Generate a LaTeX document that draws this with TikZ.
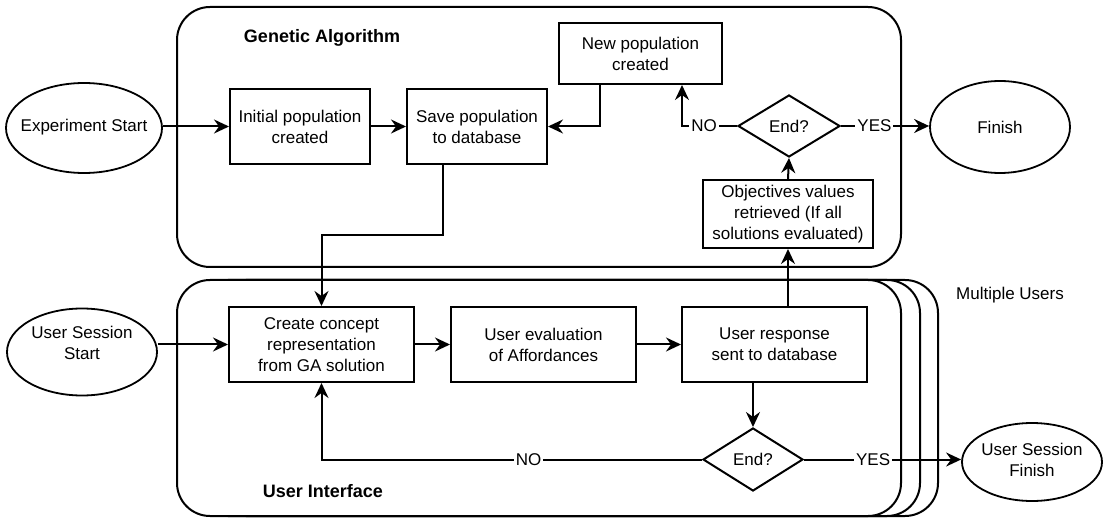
\documentclass[tikz,border=0pt]{standalone}
\usepackage{fontspec}
\setmainfont{Liberation Sans}
\usetikzlibrary{shapes.geometric,arrows.meta}
\begin{document}
\begin{tikzpicture}[x=1pt,y=-1pt,
  every node/.style={font=\fontsize{17}{21}\selectfont},
  ln/.style={line width=2pt},
  arr/.style={ln,-{Stealth[length=15pt,width=14pt,inset=5pt]}},
  proc/.style={draw,ln,fill=white,align=center,inner sep=1pt},
  term/.style={ellipse,draw,line width=1.8pt,fill=white,inner sep=0pt},
  ttext/.style={align=center,inner sep=0pt},
  dec/.style={diamond,draw,ln,fill=white,inner sep=0pt},
  cont/.style={draw,ln,fill=white,rounded corners=33pt,inner sep=0pt},
  lbl/.style={fill=white,inner sep=2pt},
  ttl/.style={font=\fontsize{18}{22}\selectfont\bfseries}]
\useasboundingbox (0,0) rectangle (1108,518);

% containers
\node[cont,minimum width=724pt,minimum height=260pt] (ga) at (539,137) {};
\node[cont,minimum width=725pt,minimum height=236pt] (ui3) at (575.5,398) {};
\node[cont,minimum width=725pt,minimum height=236pt] (ui2) at (557.5,398) {};
\node[cont,minimum width=724pt,minimum height=236pt] (ui) at (539,398) {};

\node[ttl] (gat) at (322,38) {Genetic Algorithm};
\node[ttl] (uit) at (323,491) {User Interface};
\node (mu) at (1010,295) {Multiple Users};

% GA nodes
\node[term,minimum width=156pt,minimum height=90pt] (exps) at (84,128) {};
\node[ttext] (expst) at (84,127) {Experiment Start};
\node[proc,minimum width=140pt,minimum height=75pt] (init) at (300,126.5) {Initial population\\created};
\node[proc,minimum width=140pt,minimum height=75pt] (save) at (477,126.5) {Save population\\to database};
\node[proc,minimum width=163pt,minimum height=61pt] (newp) at (640.5,53.5) {New population\\created};
\node[dec,minimum width=102pt,minimum height=62pt] (end1) at (789,126) {End?};
\node[term,minimum width=140pt,minimum height=92pt] (fin) at (1000,127) {};
\node[ttext] (fint) at (fin) {Finish};
\node[proc,minimum width=170pt,minimum height=68pt] (obj) at (788,214) {Objectives values\\retrieved (If all\\solutions evaluated)};

% UI nodes
\node[term,minimum width=150pt,minimum height=87pt] (uss) at (82,352) {};
\node[ttext] (usst) at (82,343) {User Session\\Start};
\node[proc,minimum width=185pt,minimum height=75pt] (create) at (321.5,344.5) {Create concept\\representation\\from GA solution};
\node[proc,minimum width=185pt,minimum height=75pt] (ueval) at (543.5,344.5) {User evaluation\\of Affordances};
\node[proc,minimum width=185pt,minimum height=75pt] (uresp) at (774.5,344.5) {User response\\sent to database};
\node[dec,minimum width=100pt,minimum height=63pt] (end2) at (753,459.5) {End?};
\node[term,minimum width=140pt,minimum height=78pt] (usf) at (1032,462) {};
\node[ttext] (usft) at (1032,460) {User Session\\Finish};

% connectors GA
\draw[arr] (exps.east |- init.west) -- (init.west);
\draw[arr] (init.east) -- (save.west);
\draw[arr] ([xshift=-40.5pt]newp.south) |- (save.east);
\draw[arr] (end1.west) -| node[lbl,pos=0.3] {NO} ([xshift=41.5pt]newp.south);
\draw[arr] (end1.east) -- node[lbl,pos=0.38] {YES} (end1.east -| fin.west);
\draw[arr] (obj.north) -- (end1.south);
\draw[arr] ([xshift=-34pt]save.south) -- ++(0,70) -| (create.north);
\draw[arr] (obj.south |- uresp.north) -- (obj.south);

% connectors UI
\draw[arr] (uss.east |- create.west) -- (create.west);
\draw[arr] (create.east) -- (ueval.west);
\draw[arr] (ueval.east) -- (uresp.west);
\draw[arr] (end2.north |- uresp.south) -- (end2.north);
\draw[arr] (end2.west) -| node[lbl,pos=0.228] {NO} (create.south);
\draw[arr] (end2.east) -- node[lbl,pos=0.44] {YES} (end2.east -| usf.west);
\end{tikzpicture}
\end{document}
